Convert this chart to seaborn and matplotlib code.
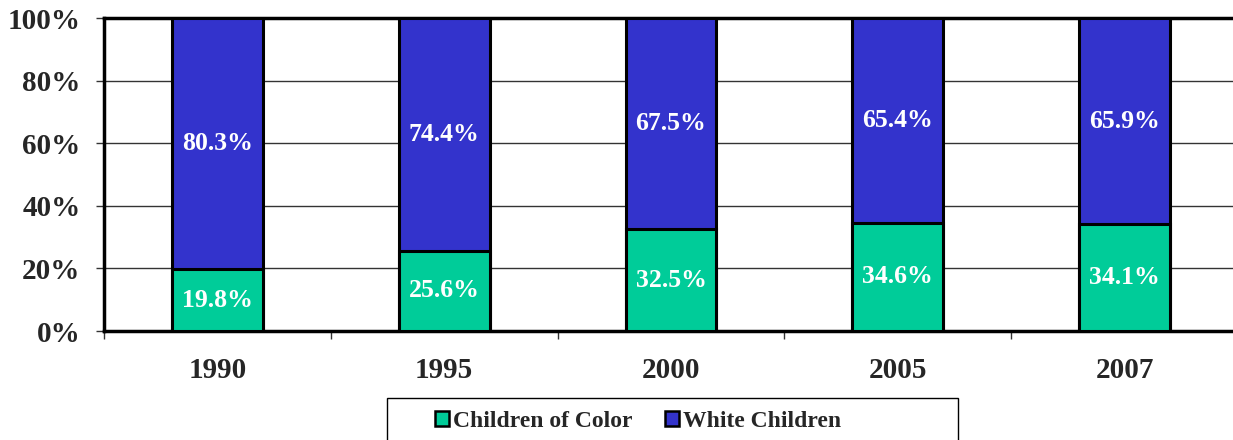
import matplotlib
matplotlib.use("Agg")
import matplotlib.pyplot as plt
from matplotlib.patches import Patch, Rectangle
from matplotlib.ticker import FixedLocator, PercentFormatter
import seaborn as sns
import pandas as pd

years = ["1990", "1995", "2000", "2005", "2007"]
children_of_color = [19.8, 25.6, 32.5, 34.6, 34.1]
white_children = [80.3, 74.4, 67.5, 65.4, 65.9]

GREEN = "#00CC99"
BLUE = "#3333CC"

sns.set_theme(style="white")
plt.rcParams["font.family"] = ["Liberation Serif", "DejaVu Serif"]
plt.rcParams["font.weight"] = "bold"

df = pd.DataFrame({
    "year": years,
    "color": children_of_color,
    "white": white_children,
})
df["total"] = df["color"] + df["white"]

W, H = 1233, 440
fig = plt.figure(figsize=(W / 100, H / 100), dpi=100)
ax = fig.add_axes([104 / W, 1 - 331 / H, 1134 / W, (331 - 18) / H])

# Stacked bars: the full column in blue, the lower share drawn over it in green
sns.barplot(data=df, x="year", y="total", color=BLUE, width=0.4, saturation=1,
            edgecolor="black", linewidth=2.2, ax=ax, zorder=3)
sns.barplot(data=df, x="year", y="color", color=GREEN, width=0.4, saturation=1,
            edgecolor="black", linewidth=2.2, ax=ax, zorder=4)

ax.set_ylim(0, 100)
ax.set_xlim(-0.5, len(years) - 0.5)
ax.set_xlabel("")
ax.set_ylabel("")

for i, (c, w) in enumerate(zip(children_of_color, white_children)):
    ax.text(i, c / 2, f"{c:.1f}%", ha="center", va="center", color="white",
            fontsize=18.5, fontweight="bold", zorder=5)
    top = min(c + w, 100)
    ax.text(i, c + (top - c) / 2, f"{w:.1f}%", ha="center", va="center",
            color="white", fontsize=18.5, fontweight="bold", zorder=5)

# Grid and axis styling
ax.yaxis.set_major_locator(FixedLocator([0, 20, 40, 60, 80, 100]))
ax.yaxis.set_major_formatter(PercentFormatter(decimals=0))
ax.grid(axis="y", color="#333333", linewidth=1.0, zorder=0)
ax.grid(axis="x", visible=False)
for side in ["left", "bottom", "top"]:
    ax.spines[side].set_visible(True)
    ax.spines[side].set_color("black")
    ax.spines[side].set_linewidth(2.5)
ax.spines["right"].set_visible(False)

ax.tick_params(axis="y", which="major", left=True, length=6, width=1,
               color="#333333", labelsize=21, pad=11)
ax.xaxis.set_minor_locator(FixedLocator([i - 0.5 for i in range(len(years) + 1)]))
ax.tick_params(axis="x", which="major", bottom=False, length=0, labelsize=21, pad=19)
ax.tick_params(axis="x", which="minor", bottom=True, length=6, width=1,
               color="#333333")
for lab in ax.get_xticklabels() + ax.get_yticklabels():
    lab.set_fontweight("bold")

# Legend: entries centred in the left part of a wider framed box
handles = [
    Patch(facecolor=GREEN, edgecolor="black", linewidth=1.8, label="Children of Color"),
    Patch(facecolor=BLUE, edgecolor="black", linewidth=1.8, label="White Children"),
]
fig.legend(handles=handles, loc="center", bbox_to_anchor=(638 / W, 1 - 421 / H),
           ncol=2, frameon=False, prop={"size": 17, "weight": "bold"},
           handlelength=0.6, handleheight=0.6, handletextpad=0.15,
           columnspacing=1.4, borderpad=0, borderaxespad=0)
fig.patches.append(Rectangle((387 / W, -0.01), (958 - 387) / W, (H - 398) / H + 0.01,
                             transform=fig.transFigure, facecolor="none",
                             edgecolor="black", linewidth=1.0))

fig.savefig("out.png", dpi=100)
